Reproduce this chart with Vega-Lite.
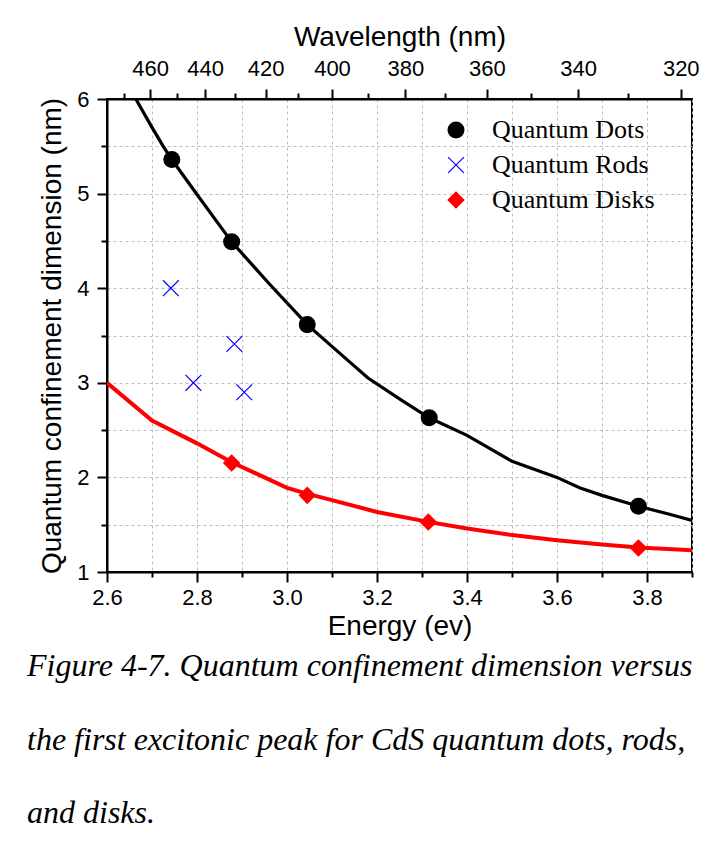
{
  "$schema": "https://vega.github.io/schema/vega-lite/v6.json",
  "width": 585,
  "height": 473,
  "autosize": {"type": "none"},
  "padding": {"left": 107, "top": 99, "right": 25, "bottom": 279},
  "background": "white",
  "datasets": {
    "points": [
      {"series": "Quantum Dots", "E": 2.744, "d": 5.36},
      {"series": "Quantum Dots", "E": 2.877, "d": 4.49},
      {"series": "Quantum Dots", "E": 3.045, "d": 3.615},
      {"series": "Quantum Dots", "E": 3.316, "d": 2.63},
      {"series": "Quantum Dots", "E": 3.781, "d": 1.695},
      {"series": "Quantum Rods", "E": 2.742, "d": 4.0},
      {"series": "Quantum Rods", "E": 2.792, "d": 3.0},
      {"series": "Quantum Rods", "E": 2.883, "d": 3.41},
      {"series": "Quantum Rods", "E": 2.905, "d": 2.9},
      {"series": "Quantum Disks", "E": 2.877, "d": 2.152},
      {"series": "Quantum Disks", "E": 3.045, "d": 1.81},
      {"series": "Quantum Disks", "E": 3.314, "d": 1.528},
      {"series": "Quantum Disks", "E": 3.781, "d": 1.254}
    ],
    "curves": [
      {"curve": "dots", "E": 2.664, "d": 6.0},
      {"curve": "dots", "E": 2.70, "d": 5.70},
      {"curve": "dots", "E": 2.725, "d": 5.5},
      {"curve": "dots", "E": 2.744, "d": 5.36},
      {"curve": "dots", "E": 2.80, "d": 4.99},
      {"curve": "dots", "E": 2.877, "d": 4.49},
      {"curve": "dots", "E": 2.96, "d": 4.05},
      {"curve": "dots", "E": 3.045, "d": 3.615},
      {"curve": "dots", "E": 3.12, "d": 3.30},
      {"curve": "dots", "E": 3.18, "d": 3.05},
      {"curve": "dots", "E": 3.255, "d": 2.815},
      {"curve": "dots", "E": 3.316, "d": 2.63},
      {"curve": "dots", "E": 3.40, "d": 2.445},
      {"curve": "dots", "E": 3.50, "d": 2.17},
      {"curve": "dots", "E": 3.60, "d": 2.0},
      {"curve": "dots", "E": 3.65, "d": 1.89},
      {"curve": "dots", "E": 3.70, "d": 1.81},
      {"curve": "dots", "E": 3.781, "d": 1.695},
      {"curve": "dots", "E": 3.85, "d": 1.61},
      {"curve": "dots", "E": 3.90, "d": 1.546},
      {"curve": "disks", "E": 2.60, "d": 3.0},
      {"curve": "disks", "E": 2.70, "d": 2.60},
      {"curve": "disks", "E": 2.80, "d": 2.36},
      {"curve": "disks", "E": 2.877, "d": 2.16},
      {"curve": "disks", "E": 2.95, "d": 2.0},
      {"curve": "disks", "E": 3.00, "d": 1.89},
      {"curve": "disks", "E": 3.05, "d": 1.82},
      {"curve": "disks", "E": 3.10, "d": 1.76},
      {"curve": "disks", "E": 3.20, "d": 1.635},
      {"curve": "disks", "E": 3.314, "d": 1.53},
      {"curve": "disks", "E": 3.40, "d": 1.46},
      {"curve": "disks", "E": 3.50, "d": 1.39},
      {"curve": "disks", "E": 3.60, "d": 1.335},
      {"curve": "disks", "E": 3.70, "d": 1.29},
      {"curve": "disks", "E": 3.781, "d": 1.26},
      {"curve": "disks", "E": 3.90, "d": 1.23}
    ]
  },
  "title": {
    "text": [
      "Figure 4-7. Quantum confinement dimension versus",
      "the first excitonic peak for CdS quantum dots, rods,",
      "and disks."
    ],
    "orient": "bottom",
    "anchor": "start",
    "frame": "group",
    "dx": -80,
    "offset": 11,
    "font": "Liberation Serif",
    "fontStyle": "italic",
    "fontWeight": "normal",
    "fontSize": 32,
    "lineHeight": 73.5,
    "color": "black",
    "baseline": "top"
  },
  "config": {
    "view": {"stroke": "black", "strokeWidth": 2},
    "axis": {
      "domainColor": "black",
      "domainWidth": 2,
      "tickColor": "black",
      "tickWidth": 2,
      "labelFont": "Liberation Sans",
      "labelFontSize": 22,
      "labelColor": "black",
      "labelFlush": false,
      "labelOverlap": false,
      "titleFont": "Liberation Sans",
      "titleFontSize": 28,
      "titleFontWeight": "normal",
      "titleColor": "black",
      "gridColor": "#bdbdbd",
      "gridDash": [3, 3],
      "gridWidth": 1
    },
    "legend": {
      "labelFont": "Liberation Serif",
      "labelFontSize": 26,
      "labelColor": "black",
      "labelLimit": 400,
      "symbolSize": 250,
      "symbolStrokeWidth": 1.2,
      "labelOffset": 23,
      "rowPadding": 9,
      "padding": 0
    }
  },
  "resolve": {"scale": {"x": "independent"}},
  "layer": [
    {
      "data": {"name": "curves"},
      "transform": [{"filter": "datum.curve == 'disks'"}],
      "mark": {"type": "line", "color": "red", "strokeWidth": 4, "clip": true},
      "encoding": {
        "x": {
          "field": "E",
          "type": "quantitative",
          "scale": {"domain": [2.6, 3.9], "nice": false, "zero": false},
          "axis": {
            "orient": "bottom",
            "title": "Energy (ev)",
            "values": [2.6, 2.7, 2.8, 2.9, 3.0, 3.1, 3.2, 3.3, 3.4, 3.5, 3.6, 3.7, 3.8, 3.9],
            "labelExpr": "round(datum.value*10) % 2 == 0 ? format(datum.value, '.1f') : ''",
            "tickSize": {"condition": {"test": "round(datum.value*10) % 2 == 0", "value": 10}, "value": 5},
            "labelPadding": 5,
            "titlePadding": 4,
            "grid": true
          }
        },
        "y": {
          "field": "d",
          "type": "quantitative",
          "scale": {"domain": [1, 6], "nice": false, "zero": false},
          "axis": {
            "title": "Quantum confinement dimension (nm)",
            "values": [1, 1.5, 2, 2.5, 3, 3.5, 4, 4.5, 5, 5.5, 6],
            "labelExpr": "datum.value % 1 == 0 ? format(datum.value, 'd') : ''",
            "tickSize": {"condition": {"test": "datum.value % 1 == 0", "value": 10}, "value": 6},
            "labelPadding": 8,
            "titlePadding": 10,
            "grid": true
          }
        }
      }
    },
    {
      "data": {"name": "curves"},
      "transform": [{"filter": "datum.curve == 'dots'"}],
      "mark": {"type": "line", "color": "black", "strokeWidth": 3.2, "clip": true},
      "encoding": {
        "x": {
          "field": "E",
          "type": "quantitative",
          "scale": {"domain": [2.6, 3.9], "nice": false, "zero": false},
          "axis": {
            "orient": "top",
            "title": "Wavelength (nm)",
            "values": [2.6383, 2.6957, 2.7556, 2.8182, 2.8837, 2.9524, 3.0244, 3.1, 3.1795, 3.2632, 3.3514, 3.4444, 3.5429, 3.6471, 3.7576, 3.875],
            "labelExpr": "round(1240/datum.value) % 20 == 0 ? format(round(1240/datum.value), 'd') : ''",
            "tickSize": {"condition": {"test": "round(1240/datum.value) % 20 == 0", "value": 10}, "value": 6},
            "labelPadding": 9,
            "titlePadding": 6,
            "grid": false
          }
        },
        "y": {"field": "d", "type": "quantitative"}
      }
    },
    {
      "data": {"name": "points"},
      "mark": {"type": "point", "filled": true, "strokeWidth": 1.2, "size": 250, "opacity": 1},
      "encoding": {
        "x": {
          "field": "E",
          "type": "quantitative",
          "scale": {"domain": [2.6, 3.9], "nice": false, "zero": false},
          "axis": null
        },
        "y": {"field": "d", "type": "quantitative"},
        "fill": {
          "field": "series",
          "type": "nominal",
          "scale": {"domain": ["Quantum Dots", "Quantum Rods", "Quantum Disks"], "range": ["black", "blue", "red"]},
          "legend": {"title": null, "orient": "none", "legendX": 336, "legendY": 18}
        },
        "stroke": {
          "field": "series",
          "type": "nominal",
          "scale": {"domain": ["Quantum Dots", "Quantum Rods", "Quantum Disks"], "range": ["black", "blue", "red"]},
          "legend": {"title": null, "orient": "none", "legendX": 336, "legendY": 18}
        },
        "shape": {
          "field": "series",
          "type": "nominal",
          "scale": {"domain": ["Quantum Dots", "Quantum Rods", "Quantum Disks"], "range": ["circle", "M-1,-1L1,1M-1,1L1,-1", "diamond"]},
          "legend": {"title": null, "orient": "none", "legendX": 336, "legendY": 18}
        }
      }
    }
  ]
}
